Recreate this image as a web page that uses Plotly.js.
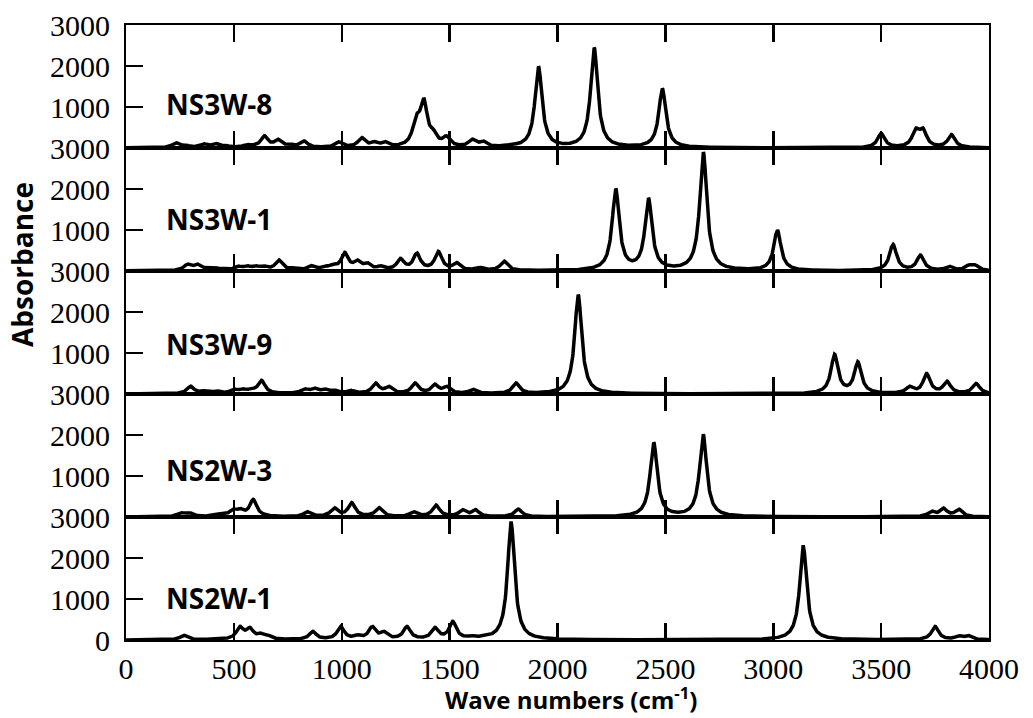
<!DOCTYPE html>
<html>
<head>
<meta charset="utf-8">
<script src="https://cdn.plot.ly/plotly-3.0.1.min.js"></script>
<style>html,body{margin:0;padding:0;background:#fff;}#chart{width:1033px;height:718px;}</style>
</head>
<body>
<div id="chart"></div>
<script>
// Panel names (top to bottom)
const seriesNames = ["NS3W-8", "NS3W-1", "NS3W-9", "NS2W-3", "NS2W-1"];

const ns3w8Pos = [230, 276, 360, 414, 460, 560, 600, 642, 704, 760, 825, 985, 1092, 1150, 1200, 1345, 1380, 1425, 1485, 1605, 1655, 1790, 1912, 2170, 2486, 3500, 3660, 3694, 3826];
const ns3w8Val = [130, 75, 105, 115, 70, 90, 90, 300, 215, 110, 175, 150, 255, 160, 160, 820, 1220, 460, 300, 215, 175, 100, 1990, 2450, 1450, 360, 480, 490, 330];

const ns3w1Pos = [285, 330, 380, 410, 450, 520, 560, 600, 640, 708, 770, 858, 920, 960, 1014, 1072, 1118, 1180, 1272, 1348, 1448, 1532, 1640, 1752, 2270, 2422, 2676, 3019, 3555, 3682, 3815, 3905, 3937];
const ns3w1Val = [170, 170, 90, 90, 70, 120, 130, 130, 130, 270, 80, 130, 130, 170, 455, 270, 210, 130, 310, 440, 480, 210, 90, 240, 2010, 1780, 2900, 1000, 650, 390, 120, 150, 150];

const ns3w9Pos = [299, 360, 420, 500, 540, 580, 628, 827, 873, 920, 965, 1040, 1157, 1218, 1340, 1432, 1486, 1608, 1808, 2096, 3284, 3392, 3632, 3711, 3805, 3940];
const ns3w9Val = [190, 80, 80, 120, 130, 140, 335, 130, 150, 130, 100, 90, 270, 190, 270, 240, 190, 115, 270, 2420, 970, 790, 190, 500, 315, 260];

const ns2w3Pos = [255, 295, 413, 440, 495, 530, 590, 840, 965, 1046, 1172, 1333, 1437, 1560, 1620, 1818, 2446, 2675, 3734, 3789, 3859];
const ns2w3Val = [105, 105, 65, 80, 200, 210, 430, 130, 228, 350, 228, 130, 293, 180, 180, 195, 1820, 2025, 146, 220, 195];

const ns2w1Pos = [268, 420, 470, 528, 574, 625, 660, 866, 995, 1072, 1141, 1195, 1302, 1432, 1515, 1600, 1660, 1785, 3139, 3750, 3860, 3905];
const ns2w1Val = [114, 40, 50, 333, 309, 170, 120, 211, 333, 130, 333, 211, 333, 309, 455, 110, 120, 2860, 2280, 330, 105, 110];

// Axis tick labels
const xTicks = [0, 500, 1000, 1500, 2000, 2500, 3000, 3500, 4000];
const yTicksUpper = [1000, 2000, 3000];
const yTicksBottom = [0, 1000, 2000, 3000];

const bandPos = [ns3w8Pos, ns3w1Pos, ns3w9Pos, ns2w3Pos, ns2w1Pos];
const bandVal = [ns3w8Val, ns3w1Val, ns3w9Val, ns2w3Val, ns2w1Val];

// Lorentzian line-broadening of the band list (HWHM in cm-1)
const HWHM = 20;
function lor(d) { return HWHM * HWHM / (d * d + HWHM * HWHM); }
function broaden(pos, obs) {
  // find band amplitudes so the broadened curve reaches the observed heights
  let amp = obs.slice();
  for (let it = 0; it < 60; it++) {
    amp = amp.map((a, i) => {
      let s = 0;
      for (let j = 0; j < pos.length; j++) s += amp[j] * lor(pos[i] - pos[j]);
      return Math.max(0, a + 0.5 * (obs[i] - s));
    });
  }
  const xs = [], ys = [];
  for (let x = 0; x <= 4000; x += 2) {
    let s = 0;
    for (let j = 0; j < pos.length; j++) s += amp[j] * lor(x - pos[j]);
    xs.push(x); ys.push(s);
  }
  return {xs, ys};
}

const traces = [];
const layout = {
  width: 1033, height: 718,
  margin: {l: 126, r: 44, t: 25, b: 78},
  paper_bgcolor: "#fff", plot_bgcolor: "#fff",
  showlegend: false,
  annotations: []
};
const tickFont = {family: "Liberation Serif", size: 30, color: "#000"};
const labelCenters = [104, 219, 344, 470, 598];

for (let i = 0; i < 5; i++) {
  const n = i + 1;
  const sfx = n === 1 ? "" : String(n);
  const c = broaden(bandPos[i], bandVal[i]);
  traces.push({
    x: c.xs, y: c.ys, type: "scatter", mode: "lines",
    xaxis: "x" + sfx, yaxis: "y" + sfx,
    line: {color: "#000", width: 3.5}, name: seriesNames[i], hoverinfo: "skip"
  });
  layout["xaxis" + sfx] = {
    domain: [0, 1], range: [0, 4000], anchor: "y" + sfx,
    tickmode: "array", tickvals: xTicks, ticktext: xTicks.map(String),
    ticks: "inside", ticklen: 17, tickwidth: 2.5, tickcolor: "#000",
    showline: true, linewidth: 2, linecolor: "#000", mirror: "ticks",
    showgrid: false, zeroline: false,
    showticklabels: n === 5, tickfont: tickFont, ticklabelstandoff: 1
  };
  const yt = n === 5 ? yTicksBottom : yTicksUpper;
  layout["yaxis" + sfx] = {
    domain: [1 - 0.2 * n, 1 - 0.2 * (n - 1)], range: [0, 3000], anchor: "x" + sfx,
    tickmode: "array", tickvals: yt, ticktext: yt.map(String),
    ticks: "inside", ticklen: 17, tickwidth: 2.5, tickcolor: "#000",
    showline: true, linewidth: 2, linecolor: "#000", mirror: true,
    showgrid: false, zeroline: false, tickfont: tickFont, ticklabelstandoff: 8
  };
  layout.annotations.push({
    xref: "paper", yref: "paper", x: 38 / 863, y: 1 - (labelCenters[i] - 25) / 615,
    xanchor: "left", yanchor: "middle", showarrow: false,
    text: "<b>" + seriesNames[i] + "</b>",
    font: {family: "Open Sans", size: 28, color: "#000"}
  });
}

layout.annotations.push({
  xref: "paper", yref: "paper", x: (22 - 126) / 863, y: 1 - (265 - 25) / 615,
  xanchor: "center", yanchor: "middle", textangle: -90, showarrow: false,
  text: "<b>Absorbance</b>",
  font: {family: "Open Sans", size: 28, color: "#000"}
});
layout.annotations.push({
  xref: "paper", yref: "paper", x: (571 - 126) / 863, y: 1 - (717 - 25) / 615,
  xanchor: "center", yanchor: "bottom", showarrow: false, borderpad: 0,
  text: "<b>Wave numbers (cm<sup>-1</sup>)</b>",
  font: {family: "Open Sans", size: 24, color: "#000"}
});

Plotly.newPlot("chart", traces, layout, {displayModeBar: false, staticPlot: true});
</script>
</body>
</html>
